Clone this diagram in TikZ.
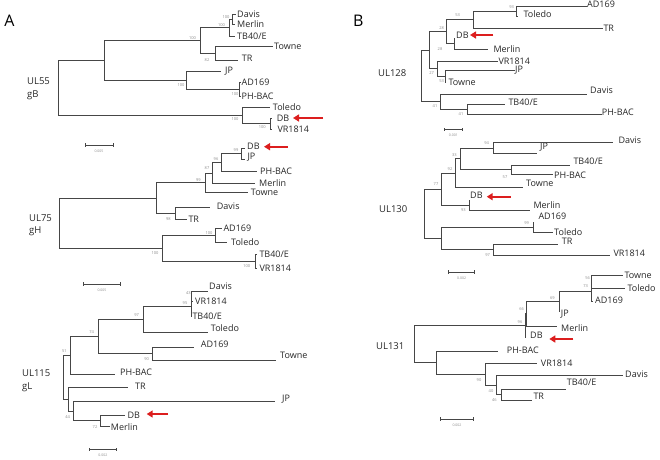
\documentclass[tikz,border=0pt]{standalone}
\usepackage{fontspec}
\setmainfont{Open Sans}
\usetikzlibrary{arrows.meta}
\definecolor{brc}{RGB}{70,70,70}
\definecolor{txc}{RGB}{40,40,40}
\definecolor{bsc}{RGB}{140,140,140}
\definecolor{arc}{RGB}{220,30,30}
\tikzset{
 br/.style={draw=brc, line width=0.8pt},
 leaflab/.style={anchor=west, inner sep=0pt, font=\fontsize{9}{9}\selectfont, text=txc},
 bs/.style={anchor=center, inner sep=0pt, font=\fontsize{4}{4}\selectfont, text=bsc},
 genelab/.style={anchor=west, inner sep=0pt, font=\fontsize{9.5}{9.5}\selectfont, text=txc},
 panellab/.style={anchor=center, inner sep=0pt, font=\fontsize{16}{16}\selectfont, text=black},
 sbar/.style={draw=brc, line width=0.8pt},
 sblab/.style={anchor=center, inner sep=0pt, font=\fontsize{3.5}{3.5}\selectfont, text=bsc},
 redarr/.style={draw=arc, line width=2.2pt, -{Triangle[length=6pt,width=7pt]}},
}
\newcommand\lf[6]{\coordinate (#1) at (#2,#3); \node[leaflab] (#1-l) at (#5,#6) {#4};}
\newcommand\ed[2]{\foreach \cc in {#2} {\draw[br] (#1) |- (\cc);}}
\newcommand\bsv[4]{\node[bs] (#1) at (#2,#3) {#4};}
\newcommand\sbr[5]{\coordinate (#1a) at (#2,#4); \coordinate (#1b) at (#3,#4);
 \draw[sbar] (#1a) -- (#1b);
 \draw[sbar] ([yshift=-1.6pt]#1a) -- ([yshift=1.6pt]#1a);
 \draw[sbar] ([yshift=-1.6pt]#1b) -- ([yshift=1.6pt]#1b);
 \node[sblab] (#1l) at ({(#2+#3)/2},{#4+6}) {#5};}
\begin{document}
\begin{tikzpicture}[x=1pt,y=-1pt]
\useasboundingbox[fill=white] (0,0) rectangle (660,459);
% panel labels
\node[panellab] (pA) at (9.5,20.5) {A};
\node[panellab] (pB) at (358.3,20.5) {B};
% ================= UL55 =================
\node[genelab] (g55a) at (27,81) {UL55};
\node[genelab] (g55b) at (27,95) {gB};
\lf{a1}{236}{14}{Davis}{237}{14}
\lf{a2}{235}{24}{Merlin}{237}{24}
\lf{a3}{235}{36}{TB40/E}{237}{36}
\lf{a4}{273}{46.7}{Towne}{274}{46.7}
\lf{a5}{238.3}{60}{TR}{241.7}{58}
\lf{a6}{221}{71.7}{JP}{225}{71}
\lf{a7}{240.5}{82.7}{AD169}{241.5}{82}
\lf{a8}{240.5}{96.7}{PH-BAC}{241.5}{96}
\lf{a9}{270}{107}{Toledo}{272.7}{107}
\lf{a10}{272}{118.3}{DB}{276.7}{118}
\lf{a11}{272}{129.3}{VR1814}{277.3}{129}
\coordinate (aDM) at (232,19);
\coordinate (ae) at (229,27.5);
\coordinate (af) at (215,53.35);
\coordinate (ac) at (200.7,40.4);
\coordinate (ag) at (239.5,89.7);
\coordinate (ad) at (186.7,80.7);
\coordinate (aa) at (104,60.55);
\coordinate (ah) at (270,123.8);
\coordinate (ab) at (242.7,115.4);
\coordinate (ar) at (58.7,88);
\ed{aDM}{a1,a2}
\ed{ae}{aDM,a3}
\ed{af}{a4,a5}
\ed{ac}{ae,af}
\ed{ag}{a7,a8}
\ed{ad}{a6,ag}
\ed{aa}{ac,ad}
\ed{ah}{a10,a11}
\ed{ab}{a9,ah}
\ed{ar}{aa,ab}
\bsv{s1}{226}{17}{100}
\bsv{s2}{221.5}{25}{100}
\bsv{s3}{192.5}{38.5}{100}
\bsv{s4}{207}{60.5}{82}
\bsv{s5}{181}{85}{100}
\bsv{s6}{235}{94}{100}
\bsv{s7}{235}{119}{100}
\bsv{s8}{262.3}{126.7}{100}
\sbr{sb1}{85}{113}{145}{0.005}
\coordinate (ra1) at (323,118); \coordinate (ra1t) at (293,118);
\draw[redarr] (ra1) -- (ra1t);
% ================= UL75 =================
\node[genelab] (g75a) at (29,218) {UL75};
\node[genelab] (g75b) at (29,231) {gH};
\lf{b1}{244.5}{148}{DB}{247}{146.7}
\lf{b2}{244.5}{159}{JP}{247.3}{156.7}
\lf{b3}{256.7}{171.7}{PH-BAC}{260}{171}
\lf{b4}{255}{183.3}{Merlin}{259}{183}
\lf{b5}{248.3}{192.7}{Towne}{250.7}{192.7}
\lf{b6}{210}{207.3}{Davis}{216.7}{206}
\lf{b7}{186.7}{219.3}{TR}{188.3}{219.3}
\lf{b8}{221.7}{228.3}{AD169}{223.3}{228.3}
\lf{b9}{226.7}{242.3}{Toledo}{231}{242.3}
\lf{b10}{257}{254.3}{TB40/E}{259.3}{254.3}
\lf{b11}{257}{268.3}{VR1814}{259.3}{268.3}
\coordinate (bw) at (241.7,153.5);
\coordinate (bv) at (221.7,162.6);
\coordinate (bu) at (212.3,173);
\coordinate (bs) at (205,182.8);
\coordinate (bt) at (175,213.3);
\coordinate (bp) at (156.7,198);
\coordinate (bx1) at (215,235.3);
\coordinate (bx2) at (255,261.3);
\coordinate (bq) at (162,248.3);
\coordinate (br) at (59.3,223.2);
\ed{bw}{b1,b2}
\ed{bv}{bw,b3}
\ed{bu}{bv,b4}
\ed{bs}{bu,b5}
\ed{bt}{b6,b7}
\ed{bp}{bs,bt}
\ed{bx1}{b8,b9}
\ed{bx2}{b10,b11}
\ed{bq}{bx1,bx2}
\ed{br}{bp,bq}
\bsv{t1}{236}{150}{99}
\bsv{t2}{216}{159.3}{96}
\bsv{t3}{207}{168.3}{87}
\bsv{t4}{198.3}{180}{99}
\bsv{t5}{168.3}{219.3}{98}
\bsv{t6}{209}{232.7}{100}
\bsv{t7}{246.7}{266}{100}
\bsv{t8}{155}{253.3}{100}
\sbr{sb2}{83.7}{120.3}{284}{0.005}
\coordinate (ra2) at (287.7,146.7); \coordinate (ra2t) at (264,146.7);
\draw[redarr] (ra2) -- (ra2t);
% ================= UL115 =================
\node[genelab] (g115a) at (22,373) {UL115};
\node[genelab] (g115b) at (22,387) {gL};
\lf{c1}{207.7}{291.7}{Davis}{209}{286}
\lf{c2}{193}{301}{VR1814}{195}{301}
\lf{c3}{191.5}{316.7}{TB40/E}{192.3}{316.7}
\lf{c4}{207.7}{332.7}{Toledo}{210.7}{328.3}
\lf{c5}{194.3}{347.3}{AD169}{200.7}{344.3}
\lf{c6}{275.7}{360}{Towne}{280}{355}
\lf{c7}{115}{374}{PH-BAC}{120}{372}
\lf{c8}{128.3}{387.7}{TR}{135}{386.7}
\lf{c9}{275}{401.7}{JP}{282}{399}
\lf{c10}{125}{415}{DB}{127.3}{415}
\lf{c11}{110}{426}{Merlin}{110.7}{426.7}
\coordinate (c43) at (191,296.3);
\coordinate (c95) at (191,306.5);
\coordinate (c97) at (143.3,319.6);
\coordinate (c90) at (152.7,353.7);
\coordinate (c74) at (98.3,336.6);
\coordinate (c51) at (70,355.3);
\coordinate (c72) at (100.7,420.5);
\coordinate (c44) at (73.3,411.1);
\coordinate (cTR) at (68.3,399.4);
\coordinate (cr) at (63.3,377.3);
\ed{c43}{c1,c2}
\ed{c95}{c43,c3}
\ed{c97}{c95,c4}
\ed{c90}{c5,c6}
\ed{c74}{c97,c90}
\ed{c51}{c74,c7}
\ed{c72}{c10,c11}
\ed{c44}{c9,c72}
\ed{cTR}{c8,c44}
\ed{cr}{c51,cTR}
\bsv{u1}{188.3}{293.3}{43}
\bsv{u2}{185}{302.7}{95}
\bsv{u3}{136.7}{315}{97}
\bsv{u4}{91.7}{331.7}{74}
\bsv{u5}{146.7}{359}{90}
\bsv{u6}{64.3}{350.7}{51}
\bsv{u7}{67.7}{416.7}{44}
\bsv{u8}{95}{427.3}{72}
\sbr{sb3}{89}{116.7}{449.3}{0.002}
\coordinate (ra3) at (168,414); \coordinate (ra3t) at (146.7,414);
\draw[redarr] (ra3) -- (ra3t);
% ================= UL128 =================
\node[genelab] (g128) at (378,72.7) {UL128};
\lf{d1}{586.7}{6.7}{AD169}{587}{4.7}
\lf{d2}{518}{16}{Toledo}{523.3}{14}
\lf{d3}{603.3}{28.3}{TR}{603.3}{28.3}
\lf{d4}{455}{38}{DB}{456}{35}
\lf{d5}{488.3}{49.3}{Merlin}{493.3}{49}
\lf{d6}{498.3}{61}{VR1814}{498.3}{61}
\lf{d7}{515}{70}{JP}{515}{70}
\lf{d8}{446}{82.7}{Towne}{448.3}{82.7}
\lf{d9}{586.7}{94}{Davis}{590}{90.3}
\lf{d10}{505}{104}{TB40/E}{508.3}{102.7}
\lf{d11}{601.7}{114}{PH-BAC}{601.7}{112.7}
\coordinate (dAT) at (516.7,11.35);
\coordinate (d53) at (473.3,19.8);
\coordinate (dDM) at (454,43.65);
\coordinate (d28) at (446.7,31.7);
\coordinate (dJT) at (445,76.4);
\coordinate (d27) at (437.3,68.7);
\coordinate (dA) at (429.3,50.2);
\coordinate (dTP) at (467.3,109);
\coordinate (d41) at (440.7,101.5);
\coordinate (dr) at (421,75.85);
\ed{dAT}{d1,d2}
\ed{d53}{dAT,d3}
\ed{dDM}{d4,d5}
\ed{d28}{d53,dDM}
\ed{dJT}{d7,d8}
\ed{d27}{d6,dJT}
\ed{dA}{d28,d27}
\ed{dTP}{d10,d11}
\ed{d41}{d9,dTP}
\ed{dr}{dA,d41}
\bsv{v1}{511.7}{7.3}{93}
\bsv{v2}{457.7}{15}{53}
\bsv{v3}{441.7}{28.3}{28}
\bsv{v4}{440}{49.3}{28}
\bsv{v5}{431.7}{72.7}{27}
\bsv{v6}{441.7}{80.7}{53}
\bsv{v7}{435}{106}{41}
\bsv{v8}{461}{114}{41}
\sbr{sb4}{444}{462.7}{129.3}{0.001}
\coordinate (ra4) at (493.3,35); \coordinate (ra4t) at (470,35);
\draw[redarr] (ra4) -- (ra4t);
% ================= UL130 =================
\node[genelab] (g130) at (379,209) {UL130};
\lf{e1}{613.3}{142.7}{Davis}{618.3}{140}
\lf{e2}{536.7}{153.3}{JP}{540}{147.5}
\lf{e3}{570}{165}{TB40/E}{573.3}{161.7}
\lf{e4}{553.3}{174.3}{PH-BAC}{554}{175}
\lf{e5}{523.3}{187.3}{Towne}{526}{183.3}
\lf{e6}{470}{200}{DB}{470}{195}
\lf{e7}{530}{210}{Merlin}{533.3}{205}
\lf{e8}{534}{222}{AD169}{538.3}{216.7}
\lf{e9}{553.3}{232.3}{Toledo}{554}{231.7}
\lf{e10}{558.3}{244}{TR}{561.7}{241.7}
\lf{e11}{610}{255}{VR1814}{613.3}{253.3}
\coordinate (eDJ) at (493.3,148);
\coordinate (eTP) at (511.7,169.65);
\coordinate (e33) at (460.7,158.8);
\coordinate (e92) at (455.7,173);
\coordinate (eDM) at (469.3,205);
\coordinate (e77) at (441,189);
\coordinate (eAT) at (533.3,227.2);
\coordinate (eTV) at (493.3,249.5);
\coordinate (eB) at (441,238.3);
\coordinate (er) at (424.3,213.7);
\ed{eDJ}{e1,e2}
\ed{eTP}{e3,e4}
\ed{e33}{eDJ,eTP}
\ed{e92}{e33,e5}
\ed{eDM}{e6,e7}
\ed{e77}{e92,eDM}
\ed{eAT}{e8,e9}
\ed{eTV}{e10,e11}
\ed{eB}{eAT,eTV}
\ed{er}{e77,eB}
\bsv{w1}{486.7}{143.3}{94}
\bsv{w2}{454.3}{155}{33}
\bsv{w3}{450}{169}{92}
\bsv{w4}{436}{184.3}{77}
\bsv{w5}{463.3}{210}{93}
\bsv{w6}{505}{176.7}{57}
\bsv{w7}{526.7}{223.3}{99}
\bsv{w8}{487.7}{255}{97}
\sbr{sb5}{448.7}{474.7}{272}{0.002}
\coordinate (ra5) at (510.7,196.7); \coordinate (ra5t) at (486.7,196.7);
\draw[redarr] (ra5) -- (ra5t);
% ================= UL131 =================
\node[genelab] (g131) at (376,346) {UL131};
\lf{f1}{622.7}{275}{Towne}{624.3}{275}
\lf{f2}{625}{288.3}{Toledo}{627.3}{288.3}
\lf{f3}{592.5}{301}{AD169}{595}{300.7}
\lf{f4}{560}{311.7}{JP}{560.7}{314.3}
\lf{f5}{556.7}{326}{Merlin}{561}{328.3}
\lf{f6}{526}{337.7}{DB}{530}{335.7}
\lf{f7}{498.3}{351}{PH-BAC}{506.7}{350}
\lf{f8}{536.7}{363.3}{VR1814}{540.7}{363}
\lf{f9}{623.3}{375}{Davis}{625}{374.3}
\lf{f10}{566}{389}{TB40/E}{566.7}{382.3}
\lf{f11}{531.7}{400.7}{TR}{533.3}{396.7}
\coordinate (f56) at (591.7,281.65);
\coordinate (f73) at (591.7,291.3);
\coordinate (f69) at (559,301.5);
\coordinate (f66) at (526,313.75);
\coordinate (f96) at (525,325.7);
\coordinate (fVT) at (501,394.85);
\coordinate (f40) at (496.7,384.9);
\coordinate (f90) at (485.7,374.1);
\coordinate (fC) at (436,362.55);
\coordinate (fr) at (414.7,344.1);
\ed{f56}{f1,f2}
\ed{f73}{f56,f3}
\ed{f69}{f73,f4}
\ed{f66}{f69,f5}
\ed{f96}{f66,f6}
\ed{fVT}{f10,f11}
\ed{f40}{f9,fVT}
\ed{f90}{f8,f40}
\ed{fC}{f7,f90}
\ed{fr}{f96,fC}
\bsv{x1}{587.7}{277.7}{56}
\bsv{x2}{585.7}{285.7}{73}
\bsv{x3}{552.3}{297.7}{69}
\bsv{x4}{521.7}{309}{66}
\bsv{x5}{520}{321.7}{96}
\bsv{x6}{479}{380}{90}
\bsv{x7}{491}{391}{40}
\bsv{x8}{494.3}{400.3}{46}
\sbr{sb6}{440.7}{473.3}{419}{0.002}
\coordinate (ra6) at (573.3,339); \coordinate (ra6t) at (549.3,339);
\draw[redarr] (ra6) -- (ra6t);
\end{tikzpicture}
\end{document}
